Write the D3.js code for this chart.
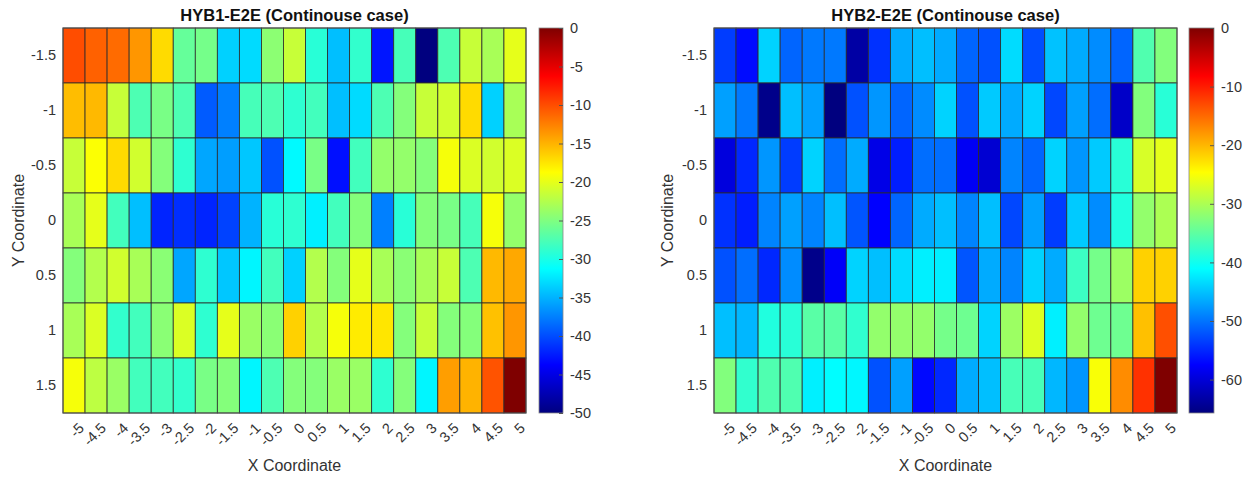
<!DOCTYPE html>
<html lang="en">
<head>
<meta charset="UTF-8">
<title>HYB E2E heatmaps</title>
<style>
    body { margin: 0; background: #fff; font-family: "Liberation Sans", Arial, sans-serif; }
    .tick text { fill: #333; font-size: 14.5px; }
    .title { font-size: 16.5px; font-weight: bold; fill: #111; }
    .axisLabel { font-size: 16px; fill: #333; }
</style>
</head>
<body>
<svg id="chart" width="1248" height="478"></svg>
<script src="https://d3js.org/d3.v7.min.js"></script>
<script>
// categories
const xCats = [-5, -4.5, -4, -3.5, -3, -2.5, -2, -1.5, -1, -0.5, 0, 0.5, 1, 1.5, 2, 2.5, 3, 3.5, 4, 4.5, 5];
const yCats = [-1.5, -1, -0.5, 0, 0.5, 1, 1.5];

// HYB1-E2E values, one row per y
const hyb1Values = [
    [-10, -11, -11.5, -13.6, -17, -26.3, -25.5, -33.5, -33, -24.4, -21.5, -29.3, -34.4, -28.8, -42.7, -27.8, -50, -27.5, -21.5, -23, -20],
    [-15.5, -15.3, -21.5, -27.5, -25.3, -27.5, -39.3, -37.5, -27.8, -27.5, -29, -28, -34.4, -33, -27.5, -24.8, -21.5, -21, -17, -33.5, -23],
    [-21.5, -18.9, -17, -21, -24.8, -29, -35.6, -36, -34, -39.8, -31.5, -25.3, -43, -28, -24, -24, -24.8, -19.2, -20.5, -21, -20.5],
    [-23, -20, -28, -34.4, -42, -41.5, -42, -40.5, -35, -29.3, -29, -32, -28, -24.8, -37.5, -29.3, -24.8, -25.3, -27.8, -19.2, -24],
    [-24.8, -22.5, -21, -23, -24.5, -35.6, -29, -34, -31.7, -28, -33.5, -22.5, -24.8, -20, -23, -24.5, -23, -21.5, -27.5, -15.3, -14.5],
    [-23, -20.5, -28.8, -28, -24.5, -20.5, -29, -20, -23.7, -24.5, -16.5, -22.5, -19.2, -17.8, -17.5, -24.8, -21.5, -24.8, -24.8, -15.7, -13.6],
    [-19.2, -22, -23.7, -28, -28, -28.8, -25.3, -24.8, -31.7, -27.5, -24.8, -24.8, -23.7, -23.7, -29, -24.8, -31.7, -14, -15, -10.3, 0]
];

// HYB2-E2E values, one row per y
const hyb2Values = [
    [-53.6, -56.8, -43.9, -51, -49.7, -49.7, -63.3, -54.3, -46.5, -45.2, -46.5, -51, -52.3, -43.3, -52.5, -45, -46.5, -48.5, -51, -35.9, -32.7],
    [-47.2, -49.7, -65, -45.2, -47.2, -65.7, -52.3, -47.8, -51, -48.5, -43.9, -52.3, -44.5, -46.5, -43.9, -52.9, -47.2, -50.4, -61, -32.7, -38.5],
    [-59.7, -55, -47.8, -53.6, -43.9, -50.4, -46.5, -59, -55.6, -50.4, -50.4, -58.2, -60.4, -49, -51, -43.9, -47.8, -44.5, -38.5, -27.2, -26.3],
    [-54.3, -55.6, -49, -47.2, -49, -45.2, -52, -57.5, -51, -46.5, -45.2, -49, -45.2, -52.9, -47.2, -53.6, -44.5, -48.5, -39, -31.6, -30],
    [-52.3, -50.4, -55, -48.5, -65, -57.9, -43.9, -45.2, -43.3, -42, -42, -52, -46.5, -49, -43.9, -46.5, -37.2, -33.5, -31, -21.7, -21.7],
    [-45.2, -45.7, -39, -38.5, -35.3, -35.3, -38, -31.6, -31.6, -31.6, -33.5, -34, -43.9, -31, -26.8, -42, -31.6, -34, -34, -20.6, -13.3],
    [-32.7, -37.9, -36, -36, -42, -41.1, -41.6, -52.3, -47.2, -57, -55, -46.5, -45.2, -36.5, -36.5, -45.7, -47.8, -25, -17.2, -11.4, 0]
];

// colorbar tick labels
const hyb1Ticks = [0, -5, -10, -15, -20, -25, -30, -35, -40, -45, -50];
const hyb2Ticks = [0, -10, -20, -30, -40, -50, -60];

const svg = d3.select("#chart");

// MATLAB jet colormap over [lo, hi]
function jetScale(lo, hi) {
    const f = [0, 0.125, 0.375, 0.625, 0.875, 1];
    return d3.scaleLinear()
        .domain(f.map(k => lo + k * (hi - lo)))
        .range(["#00007f", "#0000ff", "#00ffff", "#ffff00", "#ff0000", "#7f0000"])
        .interpolate(d3.interpolateRgb)
        .clamp(true);
}

function drawPanel(cfg) {
    const g = svg.append("g");
    const x = d3.scaleBand().domain(xCats).range([cfg.left, cfg.right]);
    const y = d3.scaleBand().domain(yCats).range([cfg.top, cfg.bottom]);

    const flat = [];
    cfg.values.forEach((row, i) => row.forEach((v, j) => flat.push({ x: xCats[j], y: yCats[i], v: v })));
    const ext = d3.extent(flat, d => d.v);
    const color = jetScale(ext[0], ext[1]);

    g.selectAll(".cell")
        .data(flat)
        .enter().append("rect")
        .attr("class", "cell")
        .attr("x", d => x(d.x))
        .attr("y", d => y(d.y))
        .attr("width", x.bandwidth())
        .attr("height", y.bandwidth())
        .style("fill", d => color(d.v))
        .style("stroke", "#2b2b2b")
        .style("stroke-width", 0.8);

    g.append("rect")
        .attr("x", cfg.left).attr("y", cfg.top)
        .attr("width", cfg.right - cfg.left).attr("height", cfg.bottom - cfg.top)
        .style("fill", "none").style("stroke", "#555").style("stroke-width", 1);

    // y axis
    const yAxis = g.append("g")
        .attr("transform", `translate(${cfg.left},0)`)
        .call(d3.axisLeft(y).tickSize(0).tickPadding(7).tickFormat(d => String(d)));
    yAxis.select(".domain").remove();

    // x axis, rotated labels
    const xAxis = g.append("g")
        .attr("transform", `translate(0,${cfg.bottom})`)
        .call(d3.axisBottom(x).tickSize(0).tickPadding(0).tickFormat(d => String(d)));
    xAxis.select(".domain").remove();
    xAxis.selectAll("text")
        .attr("text-anchor", "end")
        .attr("dy", "0")
        .attr("transform", "translate(11,16) rotate(-45)");

    g.append("text").attr("class", "title")
        .attr("x", (cfg.left + cfg.right) / 2).attr("y", 21)
        .attr("text-anchor", "middle").text(cfg.title);
    g.append("text").attr("class", "axisLabel")
        .attr("x", (cfg.left + cfg.right) / 2).attr("y", 471)
        .attr("text-anchor", "middle").text("X Coordinate");
    g.append("text").attr("class", "axisLabel")
        .attr("transform", `translate(${cfg.left - cfg.yLabelGap},${(cfg.top + cfg.bottom) / 2}) rotate(-90)`)
        .attr("text-anchor", "middle").text("Y Coordinate");

    // colorbar
    const cb = g.append("g");
    const gradId = "grad" + cfg.id;
    const grad = svg.append("defs").append("linearGradient")
        .attr("id", gradId).attr("x1", 0).attr("x2", 0).attr("y1", 1).attr("y2", 0);
    d3.range(0, 1.0001, 0.025).forEach(k => {
        grad.append("stop").attr("offset", k)
            .attr("stop-color", color(ext[0] + k * (ext[1] - ext[0])));
    });
    cb.append("rect")
        .attr("x", cfg.cbLeft).attr("y", cfg.top)
        .attr("width", cfg.cbWidth).attr("height", cfg.bottom - cfg.top)
        .style("fill", `url(#${gradId})`)
        .style("stroke", "#888").style("stroke-width", 0.8);
    const cScale = d3.scaleLinear().domain(ext).range([cfg.bottom, cfg.top]);
    const cAxis = cb.append("g")
        .attr("transform", `translate(${cfg.cbLeft + cfg.cbWidth},0)`)
        .call(d3.axisRight(cScale).tickValues(cfg.ticks).tickSize(-4).tickPadding(7).tickFormat(d => String(d)));
    cAxis.select(".domain").remove();
    cAxis.selectAll(".tick line").style("stroke", "#555");
}

drawPanel({
    id: 1, title: "HYB1-E2E (Continouse case)", values: hyb1Values, ticks: hyb1Ticks,
    left: 63, right: 526, top: 28, bottom: 413, yLabelGap: 39,
    cbLeft: 539, cbWidth: 24
});
drawPanel({
    id: 2, title: "HYB2-E2E (Continouse case)", values: hyb2Values, ticks: hyb2Ticks,
    left: 714, right: 1177, top: 28, bottom: 413, yLabelGap: 41,
    cbLeft: 1189, cbWidth: 25
});
</script>
</body>
</html>
